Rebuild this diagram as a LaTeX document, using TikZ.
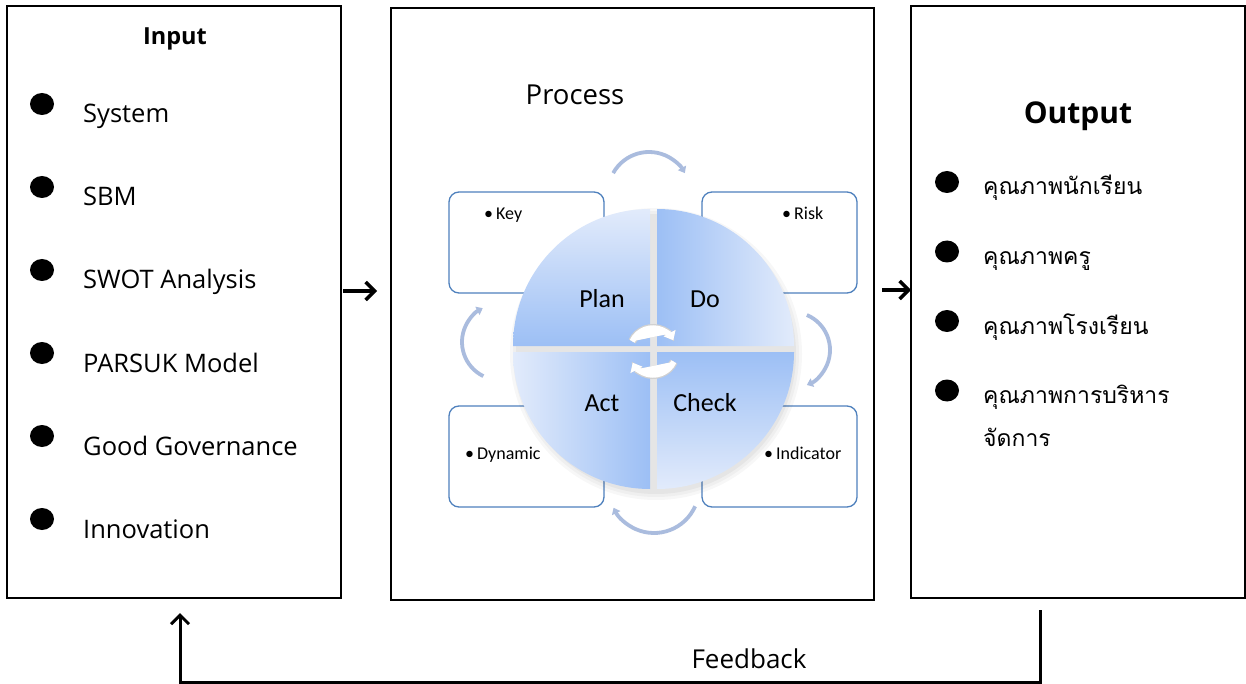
\documentclass[tikz,border=0pt]{standalone}
\usepackage{fontspec}
\setmainfont{Open Sans}
\newfontfamily\thaifont[Script=Thai]{Loma}
\newfontfamily\calfont{Carlito}
\usetikzlibrary{arrows.meta,calc}
\definecolor{boxblue}{RGB}{79,129,189}
\definecolor{arcblue}{RGB}{170,188,222}
\definecolor{qdark}{RGB}{156,191,245}
\definecolor{qlight}{RGB}{226,235,251}
\begin{document}
\begin{tikzpicture}[x=1pt,y=-1pt,
  mainbox/.style={draw=black, line width=1.5pt, inner sep=0pt, outer sep=0pt, minimum width=334pt, minimum height=592pt},
  smallbox/.style={draw=boxblue, line width=1.3pt, rounded corners=10pt, minimum width=155pt, minimum height=101pt, inner sep=0pt},
  itemtext/.style={anchor=base west, inner sep=0pt, font=\fontsize{25.5}{30}\selectfont},
  thaitext/.style={anchor=base west, inner sep=0pt, font=\thaifont\fontsize{23}{30}\selectfont},
  quadlabel/.style={anchor=base, inner sep=0pt, font=\calfont\fontsize{26}{30}\selectfont},
  smalllabel/.style={anchor=base west, inner sep=0pt, font=\calfont\fontsize{18}{20}\selectfont},
  cyclearc/.style={draw=arcblue, line width=3.8pt, -{Triangle[length=6pt,width=9pt]}},
  flowarrow/.style={draw=black, line width=3.5pt, -{Straight Barb[length=9pt,width=18pt]}},
  centerarrow/.style={line width=#1, -{Triangle[length=8pt,width=13pt]}}
]
\useasboundingbox (0,0) rectangle (1246,684);
\fill[white] (0,0) rectangle (1246,684);

% main boxes
\node[mainbox] (inbox) at (174,302) {};
\node[mainbox, line width=2.2pt, minimum width=483pt] (procbox) at (632.5,304) {};
\node[mainbox] (outbox) at (1078,302) {};

% input
\node[anchor=base, inner sep=0pt, font=\fontsize{23.5}{28}\selectfont\bfseries] (intitle) at (175,45) {Input};
\foreach \t [count=\i] in {System, SBM, SWOT Analysis, PARSUK Model, Good Governance, Innovation}{
  \pgfmathsetmacro{\yb}{123+(\i-1)*83}
  \fill (42,\yb-19) ellipse (12 and 11);
  \node[itemtext] (in\i) at (83,\yb) {\t};
}

% output
\node[anchor=base, inner sep=0pt, font=\fontsize{30}{34}\selectfont\bfseries] (outtitle) at (1078,124) {Output};
\foreach \t [count=\i] in {คุณภาพนักเรียน, คุณภาพครู, คุณภาพโรงเรียน, คุณภาพการบริหาร}{
  \pgfmathsetmacro{\yb}{195+(\i-1)*69.5}
  \fill (947,\yb-13) ellipse (12 and 11);
  \node[thaitext] (out\i) at (983,\yb) {\t};
}
\node[thaitext] (out4b) at (983,446) {จัดการ};

% process
\node[anchor=base, inner sep=0pt, font=\fontsize{27.5}{32}\selectfont] (proctitle) at (575,105) {Process};

\node[smallbox] (keybox) at (526.5,242.5) {};
\node[smallbox] (riskbox) at (779.5,242.5) {};
\node[smallbox] (dynbox) at (526.5,456.5) {};
\node[smallbox] (indbox) at (779.5,456.5) {};

% shadow of circle
\foreach \r/\o in {146/0.03,143/0.03,140/0.04}{
  \fill[black, opacity=\o] (656,354) circle[radius=\r];
}
% quadrants
\shade[top color=qlight, bottom color=qdark] (650,346) -- ++(180:137) arc[start angle=180, end angle=270, radius=137] -- cycle;
\shade[left color=qdark, right color=qlight] (657,346) -- ++(270:137) arc[start angle=270, end angle=360, radius=137] -- cycle;
\shade[top color=qdark, bottom color=qlight] (657,352) -- ++(0:137) arc[start angle=0, end angle=90, radius=137] -- cycle;
\shade[left color=qlight, right color=qdark] (650,352) -- ++(90:137) arc[start angle=90, end angle=180, radius=137] -- cycle;

\node[quadlabel] (plan) at (602,307) {Plan};
\node[quadlabel] (do) at (705,307) {Do};
\node[quadlabel] (act) at (602,411) {Act};
\node[quadlabel] (check) at (705,411) {Check};

\node[smalllabel] (key) at (484,220) {\textbullet\,Key};
\node[smalllabel] (risk) at (782,220) {\textbullet\,Risk};
\node[smalllabel] (dyn) at (465,459) {\textbullet\,Dynamic};
\node[smalllabel] (ind) at (764,459) {\textbullet\,Indicator};

% cycle arcs
\draw[cyclearc] (649,193) ++(209:41) arc[start angle=209, end angle=331, radius=41];
\draw[cyclearc] (792,350) ++(-67:38) arc[start angle=-67, end angle=67, radius=38];
\draw[cyclearc] (654,488) ++(24:45) arc[start angle=24, end angle=154, radius=45];
\draw[cyclearc] (500,342) ++(116:38) arc[start angle=116, end angle=243, radius=38];

% centre arrows
\draw[centerarrow=8pt, draw=black!18, fill=black!18] (653,351) ++(205:23) arc[start angle=205, end angle=332, radius=23];
\draw[centerarrow=5.5pt, draw=white, fill=white] (653,351) ++(205:23) arc[start angle=205, end angle=332, radius=23];
\draw[centerarrow=8pt, draw=black!18, fill=black!18] (653,352) ++(25:23) arc[start angle=25, end angle=152, radius=23];
\draw[centerarrow=5.5pt, draw=white, fill=white] (653,352) ++(25:23) arc[start angle=25, end angle=152, radius=23];

% flow arrows
\coordinate (lvlA) at (0,291);
\coordinate (lvlB) at (0,290);
\draw[flowarrow, shorten <=2pt, shorten >=14pt] (inbox.east |- lvlA) -- (procbox.west |- lvlA);
\draw[flowarrow, shorten <=8pt] (procbox.east |- lvlB) -- (outbox.west |- lvlB);

% feedback
\coordinate (fbstart) at (1040,610);
\coordinate (fbend) at (180,613);
\draw[flowarrow, line width=3pt] (fbstart) -- ++(0,72) -| (fbend);
\node[anchor=base, inner sep=0pt, font=\fontsize{26}{30}\selectfont] (fb) at (749,668) {Feedback};
\end{tikzpicture}
\end{document}
